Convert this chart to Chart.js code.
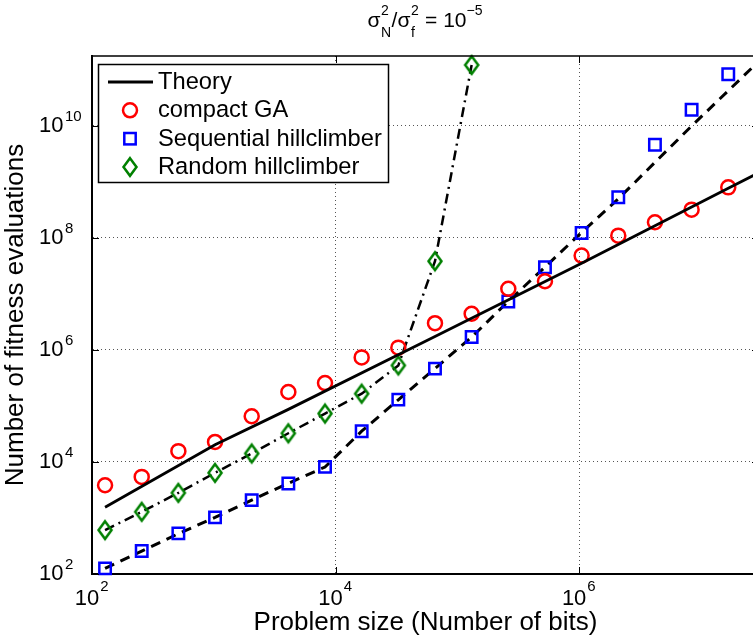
<!DOCTYPE html>
<html><head><meta charset="utf-8">
<script src="https://cdn.jsdelivr.net/npm/chart.js@4"></script>
<style>
html,body{margin:0;padding:0;background:#fff;overflow:hidden;}
#wrap{width:770px;height:643px;position:relative;}
canvas{display:block;}
</style></head><body>
<div id="wrap"><canvas id="c" width="770" height="643"></canvas></div>
<script>
// ---------- data ----------
const nBits = [128, 256, 512, 1024, 2048, 4096, 8192, 16384, 32768, 65536, 131072,
  262144, 524288, 1048576, 2097152, 4194304, 8388608, 16777216];
const compactGA = [3.85e3, 5.42e3, 1.56e4, 2.28e4, 6.55e4, 1.78e5, 2.57e5, 7.38e5, 1.10e6,
  3.01e6, 4.44e6, 1.24e7, 1.69e7, 4.85e7, 1.10e8, 1.91e8, 3.21e8, 8.02e8];
const seqHC = [126, 257, 531, 1026, 2084, 4140, 8185, 3.54e4, 1.30e5, 4.65e5, 1.70e6,
  7.35e6, 3.01e7, 1.23e8, 5.32e8, 4.62e9, 1.95e10, 8.41e10];
const randBits = [128, 256, 512, 1024, 2048, 4096, 8192, 16384, 32768, 65536, 131072];
const randHC = [608, 1291, 2812, 6397, 1.42e4, 3.26e4, 7.33e4, 1.66e5, 5.31e5, 3.85e7, 1.23e11];
const theoryBits = [128, 1024, 4096, 65536, 1048576, 16777216, 33554432];
const theoryEvals = [1.55e3, 2.04e4, 8.7e4, 1.74e6, 3.55e7, 7.76e8, 1.66e9];
const seqTheoryBits = [128, 256, 512, 1024, 2048, 4096, 8192, 16384, 32768, 65536, 131072,
  262144, 524288, 1048576, 2097152, 4194304, 8388608, 16777216, 33554432];
const seqTheoryEvals = [126, 257, 525, 1023, 2089, 4169, 8128, 3.55e4, 1.29e5, 4.68e5, 1.70e6,
  7.41e6, 3.02e7, 1.26e8, 5.01e8, 2.24e9, 1.0e10, 4.27e10, 1.82e11];
const xTickValues = [1e2, 1e4, 1e6];
const yTickValues = [1e2, 1e4, 1e6, 1e8, 1e10];
const seriesLabels = ['Theory', 'compact GA', 'Sequential hillclimber', 'Random hillclimber'];
const xTitle = 'Problem size (Number of bits)';
const yTitle = 'Number of fitness evaluations';

// ---------- helpers ----------
const FONT = '"Liberation Sans", Arial, Helvetica, sans-serif';
const pts = (xs, ys) => xs.map((x, i) => ({x: x, y: ys[i]}));
function mkDiamond(color) {
  const c = document.createElement('canvas');
  c.width = 20; c.height = 26;
  const g = c.getContext('2d');
  g.strokeStyle = color; g.lineWidth = 2.5; g.lineJoin = 'miter';
  g.beginPath(); g.moveTo(10, 4.2); g.lineTo(16.5, 13); g.lineTo(10, 21.8); g.lineTo(3.5, 13);
  g.closePath(); g.stroke();
  return c;
}
const RED = '#ff0000', BLUE = '#0000ff', GREEN = '#008000';
const diamond = mkDiamond(GREEN);

const TICK_FONT = 22, EXP_FONT = 15, X_PAD = 12, X_LOFF = -5, Y_PAD = 28.5;

const overlay = {
  id: 'overlay',
  afterDraw(chart) {
    const ctx = chart.ctx, a = chart.chartArea;
    const xs = chart.scales.x, ys = chart.scales.y;
    ctx.save();
    // frame (top / right)
    ctx.strokeStyle = '#000'; ctx.lineWidth = 1.5;
    ctx.beginPath(); ctx.moveTo(a.left, a.top); ctx.lineTo(a.right, a.top); ctx.lineTo(a.right, a.bottom); ctx.stroke();
    // inward tick marks
    ctx.lineWidth = 1;
    xs.ticks.forEach(t => {
      const px = Math.round(xs.getPixelForValue(t.value)) + 0.5;
      ctx.beginPath(); ctx.moveTo(px, a.bottom); ctx.lineTo(px, a.bottom - 7);
      ctx.moveTo(px, a.top); ctx.lineTo(px, a.top + 7); ctx.stroke();
    });
    ys.ticks.forEach(t => {
      const py = Math.round(ys.getPixelForValue(t.value)) + 0.5;
      ctx.beginPath(); ctx.moveTo(a.left, py); ctx.lineTo(a.left + 7, py);
      ctx.moveTo(a.right, py); ctx.lineTo(a.right - 7, py); ctx.stroke();
    });
    // exponents of tick labels
    ctx.fillStyle = '#000';
    ctx.font = TICK_FONT + 'px ' + FONT;
    const baseW = ctx.measureText('10').width;
    ctx.font = EXP_FONT + 'px ' + FONT;
    ctx.textAlign = 'left';
    ctx.textBaseline = 'top';
    xs.ticks.forEach(t => {
      const px = xs.getPixelForValue(t.value) + X_LOFF + baseW / 2 + 1;
      ctx.fillText(String(Math.round(Math.log10(t.value))), px, a.bottom + X_PAD - 7);
    });
    ctx.textBaseline = 'alphabetic';
    ys.ticks.forEach(t => {
      const py = ys.getPixelForValue(t.value);
      ctx.fillText(String(Math.round(Math.log10(t.value))), a.left - Y_PAD + 1.5, py - 5);
    });
    // legend
    const L = {x: 98, y: 64, w: 291, h: 119};
    ctx.fillStyle = '#fff'; ctx.fillRect(L.x, L.y, L.w, L.h);
    ctx.strokeStyle = '#000'; ctx.lineWidth = 1.5;
    ctx.strokeRect(L.x + 0.5, L.y + 0.5, L.w - 1, L.h - 1);
    const base = [89, 117.3, 145.7, 174];
    const mx = 130;
    ctx.font = '23.7px ' + FONT; ctx.fillStyle = '#000'; ctx.textBaseline = 'alphabetic';
    seriesLabels.forEach((lab, i) => {
      const my = base[i] - 7;
      ctx.save();
      if (i === 0) {
        ctx.strokeStyle = '#000'; ctx.lineWidth = 2.8;
        ctx.beginPath(); ctx.moveTo(108, my); ctx.lineTo(153, my); ctx.stroke();
      } else if (i === 1) {
        ctx.strokeStyle = RED; ctx.lineWidth = 2.5;
        ctx.beginPath(); ctx.arc(mx, my, 7, 0, Math.PI * 2); ctx.stroke();
      } else if (i === 2) {
        ctx.strokeStyle = BLUE; ctx.lineWidth = 2.5;
        ctx.strokeRect(mx - 5.7, my - 5.7, 11.4, 11.4);
      } else {
        ctx.drawImage(diamond, mx - 10, my - 13);
      }
      ctx.restore();
      ctx.fillText(lab, 158, base[i]);
    });
    // title: sigma_N^2 / sigma_f^2 = 10^-5
    const mainF = '21px ' + FONT, scrF = '14px ' + FONT;
    const parts = [
      {t: 'σ', f: mainF, dy: 0},
      {stack: [{t: '2', dy: -12}, {t: 'N', dy: 10}]},
      {t: '/', f: mainF, dy: 0},
      {t: 'σ', f: mainF, dy: 0},
      {stack: [{t: '2', dy: -12}, {t: 'f', dy: 10}]},
      {t: ' = 10', f: mainF, dy: 0},
      {t: '−5', f: scrF, dy: -12}
    ];
    const wOf = p => {
      if (p.stack) { ctx.font = scrF; return Math.max(...p.stack.map(s => ctx.measureText(s.t).width)) + 1; }
      ctx.font = p.f; return ctx.measureText(p.t).width;
    };
    const total = parts.reduce((s, p) => s + wOf(p), 0);
    let tx = 425 - total / 2;
    const tb = 27;
    ctx.textAlign = 'left'; ctx.textBaseline = 'alphabetic'; ctx.fillStyle = '#000';
    parts.forEach(p => {
      const w = wOf(p);
      if (p.stack) {
        ctx.font = scrF;
        p.stack.forEach(s => ctx.fillText(s.t, tx + 0.5, tb + s.dy));
      } else {
        ctx.font = p.f; ctx.fillText(p.t, tx, tb + p.dy);
      }
      tx += w;
    });
    ctx.restore();
  }
};

new Chart(document.getElementById('c'), {
  type: 'scatter',
  data: {
    datasets: [
      {label: seriesLabels[0], data: pts(theoryBits, theoryEvals), showLine: true,
        borderColor: '#000', borderWidth: 2.8, pointRadius: 0},
      {label: seriesLabels[1], data: pts(nBits, compactGA), showLine: false, pointStyle: 'circle',
        pointRadius: 7, pointBorderWidth: 2.5, borderColor: RED, backgroundColor: 'rgba(0,0,0,0)', clip: false},
      {label: seriesLabels[2], data: pts(nBits, seqHC), showLine: false, pointStyle: 'rect',
        pointRadius: 8.1, pointBorderWidth: 2.5, borderColor: BLUE, backgroundColor: 'rgba(0,0,0,0)', clip: false},
      {label: seriesLabels[3], data: pts(randBits, randHC), showLine: false, pointStyle: diamond,
        pointRadius: 10, borderColor: GREEN, backgroundColor: 'rgba(0,0,0,0)', clip: false},
      {label: seriesLabels[2] + ' (theory)', data: pts(seqTheoryBits, seqTheoryEvals), showLine: true,
        borderColor: '#000', borderWidth: 3, borderDash: [10, 7], pointRadius: 0},
      {label: seriesLabels[3] + ' (theory)', data: pts(randBits, randHC), showLine: true,
        borderColor: '#000', borderWidth: 2.5, borderDash: [10, 5, 2, 5], pointRadius: 0}
    ]
  },
  options: {
    responsive: false,
    animation: false,
    events: [],
    layout: {padding: {top: 56, right: 10, left: 0, bottom: 0}},
    plugins: {legend: {display: false}, title: {display: false}, tooltip: {enabled: false}},
    scales: {
      x: {
        type: 'logarithmic', min: 100, max: 3e7,
        afterBuildTicks: s => { s.ticks = xTickValues.map(v => ({value: v})); },
        afterFit: s => { s.height = 69; },
        ticks: {callback: () => '10', color: '#000', font: {size: TICK_FONT, family: FONT},
          padding: X_PAD, labelOffset: X_LOFF, maxRotation: 0, autoSkip: false},
        grid: {color: '#555', lineWidth: 1, drawTicks: false},
        border: {color: '#000', width: 2, dash: [1, 3]},
        title: {display: true, text: xTitle, color: '#000', font: {size: 26, family: FONT},
          padding: {top: 0, bottom: 5}}
      },
      y: {
        type: 'logarithmic', min: 100, max: 1.778e11,
        afterBuildTicks: s => { s.ticks = yTickValues.map(v => ({value: v})); },
        afterFit: s => { s.width = 92; },
        ticks: {callback: () => '10', color: '#000', font: {size: TICK_FONT, family: FONT},
          padding: Y_PAD, autoSkip: false},
        grid: {color: '#555', lineWidth: 1, drawTicks: false},
        border: {color: '#000', width: 2, dash: [1, 3]},
        title: {display: true, text: yTitle, color: '#000', font: {size: 26, family: FONT},
          padding: {top: 0, bottom: 0}}
      }
    }
  },
  plugins: [overlay]
});
</script>
</body></html>
